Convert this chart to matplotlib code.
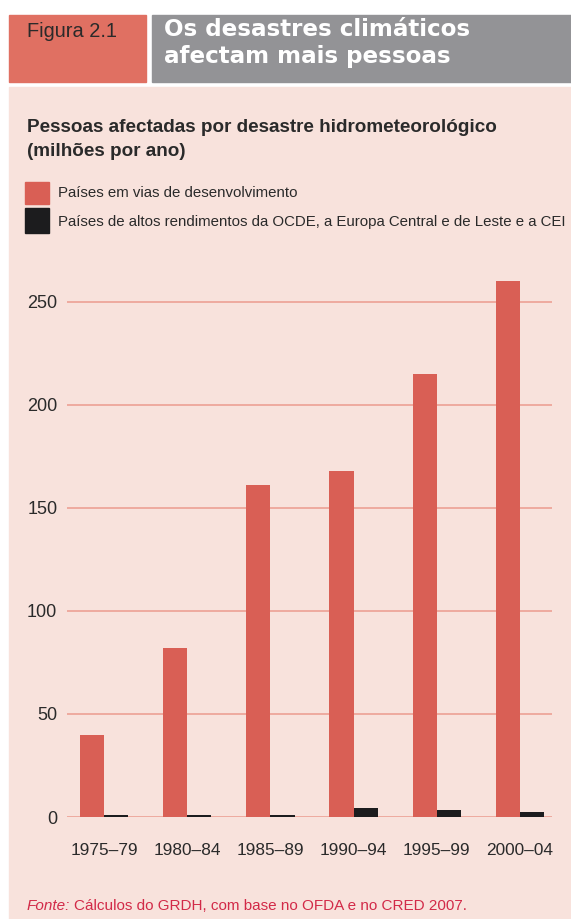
import numpy as np
import matplotlib
matplotlib.use('Agg')
import matplotlib.pyplot as plt
from matplotlib.patches import Rectangle

periods = ['1975–79', '1980–84', '1985–89', '1990–94', '1995–99', '2000–04']
developing = [40, 82, 161, 168, 215, 260]
high_income = [1.0, 1.0, 1.2, 4.2, 3.2, 2.4]
y_ticks = [0, 50, 100, 150, 200, 250]

W, H = 571, 919
SANS = 'Liberation Sans'
BG = '#f8e2dc'
RED = '#d95f55'
DARK = '#1c1c1e'
INK = '#2a2a2a'


def fx(x):
    return x / W


def fy(y):
    return 1 - y / H


def fit(txt, width):
    # shrink/grow a text so that it spans `width` pixels, like the condensed original
    fig.canvas.draw()
    cur = txt.get_window_extent().width
    txt.set_fontsize(txt.get_fontsize() * width / cur)


fig = plt.figure(figsize=(W / 100, H / 100), dpi=100)
fig.patch.set_facecolor('white')

# header boxes and pink panel
fig.patches.append(Rectangle((fx(9), fy(82)), fx(146 - 9), (82 - 15) / H,
                             transform=fig.transFigure, color='#e07062', zorder=0))
fig.patches.append(Rectangle((fx(152), fy(82)), fx(W - 152), (82 - 15) / H,
                             transform=fig.transFigure, color='#939396', zorder=0))
fig.patches.append(Rectangle((fx(9), 0), fx(W - 9), (H - 87) / H,
                             transform=fig.transFigure, color=BG, zorder=0))

t = fig.text(fx(27), fy(37), 'Figura 2.1', family=SANS, fontsize=15, color=INK, va='baseline')
fit(t, 90)
t = fig.text(fx(164), fy(36), 'Os desastres climáticos', family='DejaVu Sans', fontweight='bold',
             fontsize=15.5, color='white', va='baseline')
fit(t, 306)
fig.text(fx(164), fy(63), 'afectam mais pessoas', family='DejaVu Sans', fontweight='bold',
         fontsize=t.get_fontsize(), color='white', va='baseline')

t = fig.text(fx(27), fy(132), 'Pessoas afectadas por desastre hidrometeorológico', family=SANS,
             fontweight='bold', fontsize=13, color=INK, va='baseline')
fit(t, 470)
fig.text(fx(27), fy(156), '(milhões por ano)', family=SANS,
         fontweight='bold', fontsize=t.get_fontsize(), color=INK, va='baseline')

# legend
fig.patches.append(Rectangle((fx(25), fy(204)), fx(24), 22 / H, transform=fig.transFigure, color=RED))
fig.patches.append(Rectangle((fx(25), fy(233)), fx(24), 25 / H, transform=fig.transFigure, color=DARK))
t = fig.text(fx(58), fy(222), 'Países de altos rendimentos da OCDE, a Europa Central e de Leste e a CEI',
             family=SANS, fontsize=12, color=INK, va='center')
fit(t, 509)
fig.text(fx(58), fy(193), 'Países em vias de desenvolvimento', family=SANS,
         fontsize=t.get_fontsize(), color=INK, va='center')

# chart
ax = fig.add_axes([fx(67), (H - 817) / H, fx(485), 262 * 2.061 / H], zorder=2)
ax.set_facecolor('none')
x = np.arange(len(periods))
w = 0.29
ax.bar(x - w / 2, developing, w, color=RED, zorder=3)
ax.bar(x + w / 2, high_income, w, color=DARK, zorder=3)
ax.set_xlim(-0.445, 5.385)
ax.set_ylim(0, 262)
ax.set_yticks(y_ticks)
ax.set_xticks(x)
ax.set_xticklabels(periods)
ax.yaxis.grid(True, color='#eea69a', linewidth=1.3, zorder=1)
ax.set_axisbelow(True)
for s in ax.spines.values():
    s.set_visible(False)
ax.tick_params(axis='y', length=0, pad=7, labelsize=13, labelcolor=INK)
ax.tick_params(axis='x', length=0, pad=19, labelsize=12.4, labelcolor=INK)
for lab in ax.get_xticklabels() + ax.get_yticklabels():
    lab.set_family(SANS)

t1 = fig.text(fx(27), fy(910), 'Fonte:', family=SANS, style='italic', fontsize=12,
              color='#d22a48', va='baseline')
t2 = fig.text(fx(70), fy(910), 'Cálculos do GRDH, com base no OFDA e no CRED 2007.',
              family=SANS, fontsize=12, color='#d22a48', va='baseline')
fig.canvas.draw()
full = t2.get_window_extent().x1 - t1.get_window_extent().x0
scale = (440 - 4) / (full - (t2.get_window_extent().x0 - t1.get_window_extent().x1))
t1.set_fontsize(12 * scale)
t2.set_fontsize(12 * scale)
fig.canvas.draw()
t2.set_x((t1.get_window_extent().x1 + 4) / W)

fig.savefig('out.png', dpi=100)
